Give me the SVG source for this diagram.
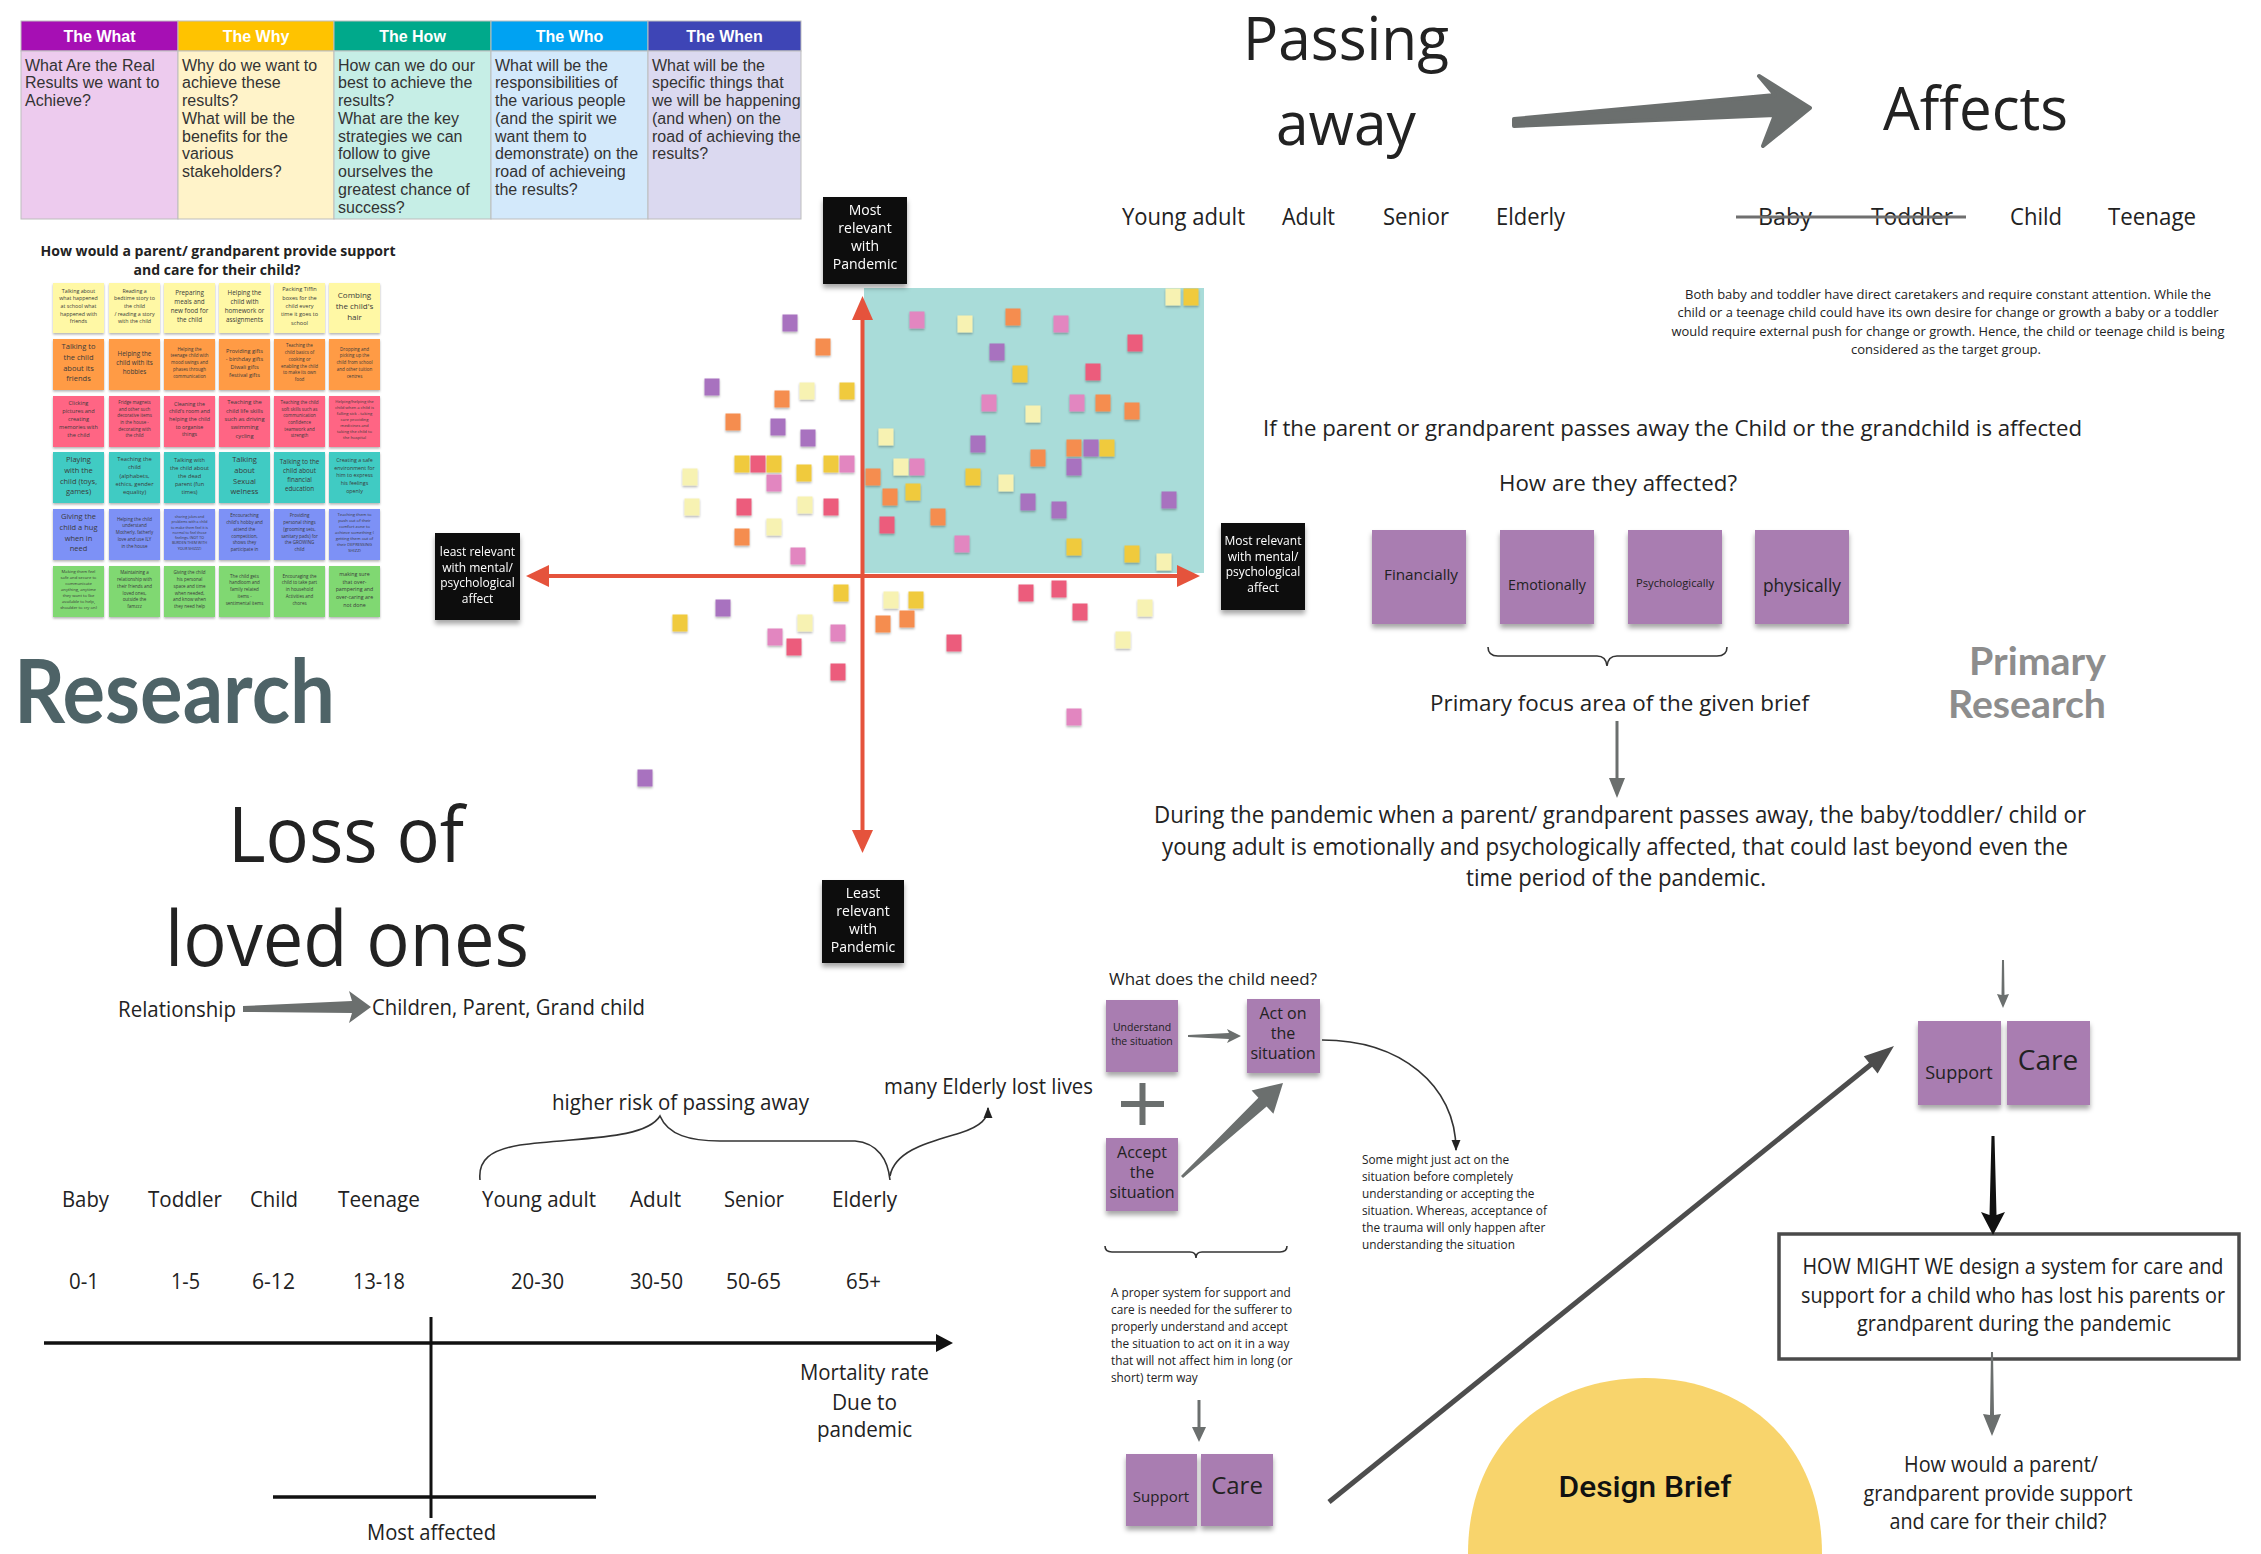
<svg xmlns="http://www.w3.org/2000/svg" width="2261" height="1554" viewBox="0 0 2261 1554">
<defs>
<style>
.os{font-family:"Open Sans","Noto Sans",sans-serif;fill:#222}
.m{text-anchor:middle}
.e{text-anchor:end}
.hdr{font-family:"Liberation Sans",Arial,sans-serif;font-weight:bold;font-size:16px;fill:#fff;text-anchor:middle}
.tb{font-family:"Liberation Sans",Arial,sans-serif;font-size:16px;fill:#333}
.nt{font-family:"Open Sans","Noto Sans",sans-serif;fill:#3a3a3a;text-anchor:middle}
.bx{font-family:"Open Sans","Noto Sans",sans-serif;fill:#fff;text-anchor:middle}
.pn{fill:#A97DB1}
.cP{fill:#E286C0}.cR{fill:#EC5C7C}.cO{fill:#F58D4F}.cY{fill:#F0CA3C}.cL{fill:#F7F2B2}.cU{fill:#A872BF}
.y1{fill:#FFF8A5}.y2{fill:#FF9B45}.y3{fill:#FF6584}.y4{fill:#40CBC3}.y5{fill:#7D91F6}.y6{fill:#80D872}
.gr{fill:#6B6F6E}
.ax{stroke:#E5533C;stroke-width:4;fill:none}
.axh{fill:#E5533C}
.blk{fill:#111}
.thin{fill:none;stroke:#333;stroke-width:1.6}
</style>
<filter id="sh" x="-20%" y="-20%" width="140%" height="150%"><feDropShadow dx="0" dy="4" stdDeviation="2.5" flood-color="#000" flood-opacity="0.35"/></filter>
<filter id="shs" x="-20%" y="-20%" width="140%" height="150%"><feDropShadow dx="0" dy="1.5" stdDeviation="1" flood-color="#000" flood-opacity="0.3"/></filter>
<marker id="ah" viewBox="0 0 10 10" refX="9" refY="5" markerWidth="7" markerHeight="7" orient="auto"><path d="M0,1 L10,5 L0,9 z" fill="#222"/></marker>
</defs>
<rect width="2261" height="1554" fill="#fff"/>

<!-- Table -->
<g id="table">
<g stroke="#BDBDBD" stroke-width="1">
<rect x="21" y="21" width="157" height="30" fill="#A60FB4"/>
<rect x="178" y="21" width="156" height="30" fill="#FFC300"/>
<rect x="334" y="21" width="157" height="30" fill="#00A98B"/>
<rect x="491" y="21" width="157" height="30" fill="#00A2F2"/>
<rect x="648" y="21" width="153" height="30" fill="#3E45B6"/>
<rect x="21" y="51" width="157" height="168" fill="#EDCBEE"/>
<rect x="178" y="51" width="156" height="168" fill="#FFF3C9"/>
<rect x="334" y="51" width="157" height="168" fill="#C6EEE6"/>
<rect x="491" y="51" width="157" height="168" fill="#D3E9FB"/>
<rect x="648" y="51" width="153" height="168" fill="#DBD9F0"/>
</g>
<text class="hdr" x="99.5" y="42">The What</text>
<text class="hdr" x="256" y="42">The Why</text>
<text class="hdr" x="412.5" y="42">The How</text>
<text class="hdr" x="569.5" y="42">The Who</text>
<text class="hdr" x="724.5" y="42">The When</text>
<text class="tb" x="25" y="70.5"><tspan x="25">What Are the Real</tspan><tspan x="25" dy="17.75">Results we want to</tspan><tspan x="25" dy="17.75">Achieve?</tspan></text>
<text class="tb" x="182" y="70.5"><tspan x="182">Why do we want to</tspan><tspan x="182" dy="17.75">achieve these</tspan><tspan x="182" dy="17.75">results?</tspan><tspan x="182" dy="17.75">What will be the</tspan><tspan x="182" dy="17.75">benefits for the</tspan><tspan x="182" dy="17.75">various</tspan><tspan x="182" dy="17.75">stakeholders?</tspan></text>
<text class="tb" x="338" y="70.5"><tspan x="338">How can we do our</tspan><tspan x="338" dy="17.75">best to achieve the</tspan><tspan x="338" dy="17.75">results?</tspan><tspan x="338" dy="17.75">What are the key</tspan><tspan x="338" dy="17.75">strategies we can</tspan><tspan x="338" dy="17.75">follow to give</tspan><tspan x="338" dy="17.75">ourselves the</tspan><tspan x="338" dy="17.75">greatest chance of</tspan><tspan x="338" dy="17.75">success?</tspan></text>
<text class="tb" x="495" y="70.5"><tspan x="495">What will be the</tspan><tspan x="495" dy="17.75">responsibilities of</tspan><tspan x="495" dy="17.75">the various people</tspan><tspan x="495" dy="17.75">(and the spirit we</tspan><tspan x="495" dy="17.75">want them to</tspan><tspan x="495" dy="17.75">demonstrate) on the</tspan><tspan x="495" dy="17.75">road of achieveing</tspan><tspan x="495" dy="17.75">the results?</tspan></text>
<text class="tb" x="652" y="70.5" font-size="15.5"><tspan x="652">What will be the</tspan><tspan x="652" dy="17.75">specific things that</tspan><tspan x="652" dy="17.75">we will be happening</tspan><tspan x="652" dy="17.75">(and when) on the</tspan><tspan x="652" dy="17.75">road of achieving the</tspan><tspan x="652" dy="17.75">results?</tspan></text>
</g>

<!-- Sticky grid -->
<g id="grid-title">
<text class="os m" x="218" y="256" font-size="14" font-weight="bold" textLength="355" lengthAdjust="spacingAndGlyphs">How would a parent/ grandparent provide support</text>
<text class="os m" x="217" y="275" font-size="14" font-weight="bold" textLength="167" lengthAdjust="spacingAndGlyphs">and care for their child?</text>
</g>
<g id="sticky-grid" filter="url(#shs)">
<g class="y1">
<rect x="53" y="283" width="51" height="50"/><rect x="109" y="283" width="51" height="50"/><rect x="164" y="283" width="51" height="50"/><rect x="219" y="283" width="51" height="50"/><rect x="274" y="283" width="51" height="50"/><rect x="329" y="283" width="51" height="50"/>
</g>
<g class="y2">
<rect x="53" y="339" width="51" height="51"/><rect x="109" y="339" width="51" height="51"/><rect x="164" y="339" width="51" height="51"/><rect x="219" y="339" width="51" height="51"/><rect x="274" y="339" width="51" height="51"/><rect x="329" y="339" width="51" height="51"/>
</g>
<g class="y3">
<rect x="53" y="396" width="51" height="51"/><rect x="109" y="396" width="51" height="51"/><rect x="164" y="396" width="51" height="51"/><rect x="219" y="396" width="51" height="51"/><rect x="274" y="396" width="51" height="51"/><rect x="329" y="396" width="51" height="51"/>
</g>
<g class="y4">
<rect x="53" y="452" width="51" height="51"/><rect x="109" y="452" width="51" height="51"/><rect x="164" y="452" width="51" height="51"/><rect x="219" y="452" width="51" height="51"/><rect x="274" y="452" width="51" height="51"/><rect x="329" y="452" width="51" height="51"/>
</g>
<g class="y5">
<rect x="53" y="509" width="51" height="51"/><rect x="109" y="509" width="51" height="51"/><rect x="164" y="509" width="51" height="51"/><rect x="219" y="509" width="51" height="51"/><rect x="274" y="509" width="51" height="51"/><rect x="329" y="509" width="51" height="51"/>
</g>
<g class="y6">
<rect x="53" y="566" width="51" height="51"/><rect x="109" y="566" width="51" height="51"/><rect x="164" y="566" width="51" height="51"/><rect x="219" y="566" width="51" height="51"/><rect x="274" y="566" width="51" height="51"/><rect x="329" y="566" width="51" height="51"/>
</g>
</g>
<g id="sticky-grid-text">
<text class="nt" x="78.5" y="292.5" font-size="5.3"><tspan x="78.5">Talking about</tspan><tspan x="78.5" dy="7.7">what happened</tspan><tspan x="78.5" dy="7.7">at school what</tspan><tspan x="78.5" dy="7.7">happened with</tspan><tspan x="78.5" dy="7.7">friends</tspan></text>
<text class="nt" x="134.5" y="292.5" font-size="5.3"><tspan x="134.5">Reading a</tspan><tspan x="134.5" dy="7.7">bedtime story to</tspan><tspan x="134.5" dy="7.7">the child</tspan><tspan x="134.5" dy="7.7">/ reading a story</tspan><tspan x="134.5" dy="7.7">with the child</tspan></text>
<text class="nt" x="189.5" y="294.7" font-size="6.3"><tspan x="189.5">Preparing</tspan><tspan x="189.5" dy="9">meals and</tspan><tspan x="189.5" dy="9">new food for</tspan><tspan x="189.5" dy="9">the child</tspan></text>
<text class="nt" x="244.5" y="294.7" font-size="6.3"><tspan x="244.5">Helping the</tspan><tspan x="244.5" dy="9">child with</tspan><tspan x="244.5" dy="9">homework or</tspan><tspan x="244.5" dy="9">assignments</tspan></text>
<text class="nt" x="299.5" y="291.4" font-size="5.6"><tspan x="299.5">Packing Tiffin</tspan><tspan x="299.5" dy="8.3">boxes for the</tspan><tspan x="299.5" dy="8.3">child every</tspan><tspan x="299.5" dy="8.3">time it goes to</tspan><tspan x="299.5" dy="8.3">school</tspan></text>
<text class="nt" x="354.5" y="297.8" font-size="8"><tspan x="354.5">Combing</tspan><tspan x="354.5" dy="11">the child's</tspan><tspan x="354.5" dy="11">hair</tspan></text>
<text class="nt" x="78.5" y="349.1" font-size="7.5"><tspan x="78.5">Talking to</tspan><tspan x="78.5" dy="10.7">the child</tspan><tspan x="78.5" dy="10.7">about its</tspan><tspan x="78.5" dy="10.7">friends</tspan></text>
<text class="nt" x="134.5" y="355.7" font-size="6.3"><tspan x="134.5">Helping the</tspan><tspan x="134.5" dy="9">child with its</tspan><tspan x="134.5" dy="9">hobbies</tspan></text>
<text class="nt" x="189.5" y="350.7" font-size="4.5"><tspan x="189.5">Helping the</tspan><tspan x="189.5" dy="6.7">teenage child with</tspan><tspan x="189.5" dy="6.7">mood swings and</tspan><tspan x="189.5" dy="6.7">phases through</tspan><tspan x="189.5" dy="6.7">communication</tspan></text>
<text class="nt" x="244.5" y="352.5" font-size="5.6"><tspan x="244.5">Providing gifts</tspan><tspan x="244.5" dy="8">- birthday gifts</tspan><tspan x="244.5" dy="8">Diwali gifts</tspan><tspan x="244.5" dy="8">festival gifts</tspan></text>
<text class="nt" x="299.5" y="347.4" font-size="4.5"><tspan x="299.5">Teaching the</tspan><tspan x="299.5" dy="6.7">child basics of</tspan><tspan x="299.5" dy="6.7">cooking or</tspan><tspan x="299.5" dy="6.7">enabling the child</tspan><tspan x="299.5" dy="6.7">to make its own</tspan><tspan x="299.5" dy="6.7">food</tspan></text>
<text class="nt" x="354.5" y="350.7" font-size="4.5"><tspan x="354.5">Dropping and</tspan><tspan x="354.5" dy="6.7">picking up the</tspan><tspan x="354.5" dy="6.7">child from school</tspan><tspan x="354.5" dy="6.7">and other tuition</tspan><tspan x="354.5" dy="6.7">centres</tspan></text>
<text class="nt" x="78.5" y="405" font-size="5.6"><tspan x="78.5">Clicking</tspan><tspan x="78.5" dy="8">pictures and</tspan><tspan x="78.5" dy="8">creating</tspan><tspan x="78.5" dy="8">memories with</tspan><tspan x="78.5" dy="8">the child</tspan></text>
<text class="nt" x="134.5" y="403.9" font-size="4.5"><tspan x="134.5">Fridge magnets</tspan><tspan x="134.5" dy="6.7">and other such</tspan><tspan x="134.5" dy="6.7">decorative items</tspan><tspan x="134.5" dy="6.7">in the house -</tspan><tspan x="134.5" dy="6.7">decorating with</tspan><tspan x="134.5" dy="6.7">the child</tspan></text>
<text class="nt" x="189.5" y="405.5" font-size="5.3"><tspan x="189.5">Cleaning the</tspan><tspan x="189.5" dy="7.7">child's room and</tspan><tspan x="189.5" dy="7.7">helping the child</tspan><tspan x="189.5" dy="7.7">to organise</tspan><tspan x="189.5" dy="7.7">things</tspan></text>
<text class="nt" x="244.5" y="404.4" font-size="5.8"><tspan x="244.5">Teaching the</tspan><tspan x="244.5" dy="8.3">child life skills</tspan><tspan x="244.5" dy="8.3">such as driving</tspan><tspan x="244.5" dy="8.3">swimming</tspan><tspan x="244.5" dy="8.3">cycling</tspan></text>
<text class="nt" x="299.5" y="403.9" font-size="4.5"><tspan x="299.5">Teaching the child</tspan><tspan x="299.5" dy="6.7">soft skills such as</tspan><tspan x="299.5" dy="6.7">communication</tspan><tspan x="299.5" dy="6.7">confidence</tspan><tspan x="299.5" dy="6.7">teamwork and</tspan><tspan x="299.5" dy="6.7">strength</tspan></text>
<text class="nt" x="354.5" y="402.5" font-size="4.2"><tspan x="354.5">Helping/helping the</tspan><tspan x="354.5" dy="6">child when a child is</tspan><tspan x="354.5" dy="6">falling sick - taking</tspan><tspan x="354.5" dy="6">care providing</tspan><tspan x="354.5" dy="6">medicines and</tspan><tspan x="354.5" dy="6">taking the child to</tspan><tspan x="354.5" dy="6">the hospital</tspan></text>
<text class="nt" x="78.5" y="462.1" font-size="7.5"><tspan x="78.5">Playing</tspan><tspan x="78.5" dy="10.7">with the</tspan><tspan x="78.5" dy="10.7">child (toys,</tspan><tspan x="78.5" dy="10.7">games)</tspan></text>
<text class="nt" x="134.5" y="460.9" font-size="5.8"><tspan x="134.5">Teaching the</tspan><tspan x="134.5" dy="8.3">child</tspan><tspan x="134.5" dy="8.3">(alphabets,</tspan><tspan x="134.5" dy="8.3">ethics, gender</tspan><tspan x="134.5" dy="8.3">equality)</tspan></text>
<text class="nt" x="189.5" y="461.5" font-size="5.6"><tspan x="189.5">Talking with</tspan><tspan x="189.5" dy="8">the child about</tspan><tspan x="189.5" dy="8">the dead</tspan><tspan x="189.5" dy="8">parent (fun</tspan><tspan x="189.5" dy="8">times)</tspan></text>
<text class="nt" x="244.5" y="462.1" font-size="7.5"><tspan x="244.5">Talking</tspan><tspan x="244.5" dy="10.7">about</tspan><tspan x="244.5" dy="10.7">Sexual</tspan><tspan x="244.5" dy="10.7">welness</tspan></text>
<text class="nt" x="299.5" y="464.2" font-size="6.3"><tspan x="299.5">Talking to the</tspan><tspan x="299.5" dy="9">child about</tspan><tspan x="299.5" dy="9">financial</tspan><tspan x="299.5" dy="9">education</tspan></text>
<text class="nt" x="354.5" y="462" font-size="5.3"><tspan x="354.5">Creating a safe</tspan><tspan x="354.5" dy="7.7">environment for</tspan><tspan x="354.5" dy="7.7">him to express</tspan><tspan x="354.5" dy="7.7">his feelings</tspan><tspan x="354.5" dy="7.7">openly</tspan></text>
<text class="nt" x="78.5" y="519.1" font-size="7.5"><tspan x="78.5">Giving the</tspan><tspan x="78.5" dy="10.7">child a hug</tspan><tspan x="78.5" dy="10.7">when in</tspan><tspan x="78.5" dy="10.7">need</tspan></text>
<text class="nt" x="134.5" y="520.7" font-size="4.5"><tspan x="134.5">Helping the child</tspan><tspan x="134.5" dy="6.7">understand</tspan><tspan x="134.5" dy="6.7">Motherly, fatherly</tspan><tspan x="134.5" dy="6.7">love and use ILY</tspan><tspan x="134.5" dy="6.7">in the house</tspan></text>
<text class="nt" x="189.5" y="517.9" font-size="3.6"><tspan x="189.5">sharing jokes and</tspan><tspan x="189.5" dy="5.3">problems with a child</tspan><tspan x="189.5" dy="5.3">to make them feel it is</tspan><tspan x="189.5" dy="5.3">normal to feel those</tspan><tspan x="189.5" dy="5.3">feelings. (NOT TO</tspan><tspan x="189.5" dy="5.3">BURDEN THEM WITH</tspan><tspan x="189.5" dy="5.3">YOUR SHIZZZ)</tspan></text>
<text class="nt" x="244.5" y="517.4" font-size="4.5"><tspan x="244.5">Encouraching</tspan><tspan x="244.5" dy="6.7">child's hobby and</tspan><tspan x="244.5" dy="6.7">attend the</tspan><tspan x="244.5" dy="6.7">competition,</tspan><tspan x="244.5" dy="6.7">shows they</tspan><tspan x="244.5" dy="6.7">participate in</tspan></text>
<text class="nt" x="299.5" y="517.4" font-size="4.5"><tspan x="299.5">Providing</tspan><tspan x="299.5" dy="6.7">personal things</tspan><tspan x="299.5" dy="6.7">(grooming sets,</tspan><tspan x="299.5" dy="6.7">sanitary pads) for</tspan><tspan x="299.5" dy="6.7">the GROWING</tspan><tspan x="299.5" dy="6.7">child</tspan></text>
<text class="nt" x="354.5" y="516" font-size="4.2"><tspan x="354.5">Teaching them to</tspan><tspan x="354.5" dy="6">push out of their</tspan><tspan x="354.5" dy="6">comfort zone to</tspan><tspan x="354.5" dy="6">achieve something (</tspan><tspan x="354.5" dy="6">getting them out of</tspan><tspan x="354.5" dy="6">their DEPRESSING</tspan><tspan x="354.5" dy="6">SHIZZ)</tspan></text>
<text class="nt" x="78.5" y="573" font-size="4.2"><tspan x="78.5">Making them feel</tspan><tspan x="78.5" dy="6">safe and secure to</tspan><tspan x="78.5" dy="6">communicate</tspan><tspan x="78.5" dy="6">anything, anytime</tspan><tspan x="78.5" dy="6">they want to (be</tspan><tspan x="78.5" dy="6">available to help,</tspan><tspan x="78.5" dy="6">shoulder to cry on)</tspan></text>
<text class="nt" x="134.5" y="574.4" font-size="4.5"><tspan x="134.5">Maintaining a</tspan><tspan x="134.5" dy="6.7">relationship with</tspan><tspan x="134.5" dy="6.7">their friends and</tspan><tspan x="134.5" dy="6.7">loved ones,</tspan><tspan x="134.5" dy="6.7">outside the</tspan><tspan x="134.5" dy="6.7">famzzz</tspan></text>
<text class="nt" x="189.5" y="574.4" font-size="4.5"><tspan x="189.5">Giving the child</tspan><tspan x="189.5" dy="6.7">his personal</tspan><tspan x="189.5" dy="6.7">space and time</tspan><tspan x="189.5" dy="6.7">when needed,</tspan><tspan x="189.5" dy="6.7">and know when</tspan><tspan x="189.5" dy="6.7">they need help</tspan></text>
<text class="nt" x="244.5" y="577.7" font-size="4.5"><tspan x="244.5">The child gets</tspan><tspan x="244.5" dy="6.7">handloom and</tspan><tspan x="244.5" dy="6.7">family related</tspan><tspan x="244.5" dy="6.7">items -</tspan><tspan x="244.5" dy="6.7">sentimental items</tspan></text>
<text class="nt" x="299.5" y="577.7" font-size="4.5"><tspan x="299.5">Encouraging the</tspan><tspan x="299.5" dy="6.7">child to take part</tspan><tspan x="299.5" dy="6.7">in household</tspan><tspan x="299.5" dy="6.7">Activities and</tspan><tspan x="299.5" dy="6.7">chores</tspan></text>
<text class="nt" x="354.5" y="576" font-size="5.3"><tspan x="354.5">making sure</tspan><tspan x="354.5" dy="7.7">that over-</tspan><tspan x="354.5" dy="7.7">pampering and</tspan><tspan x="354.5" dy="7.7">over-caring are</tspan><tspan x="354.5" dy="7.7">not done</tspan></text>
</g>

<!-- Research titles -->
<g id="research-title">
<text x="14" y="723" font-family="Lato,'Open Sans',sans-serif" font-weight="bold" font-size="88" fill="#4E6367" textLength="321" lengthAdjust="spacingAndGlyphs">Research</text>
</g>
<g id="primary-research">
<text class="e" x="2106" y="675" font-family="Lato,'Open Sans',sans-serif" font-weight="bold" font-size="39" fill="#8D8D8D" textLength="137" lengthAdjust="spacingAndGlyphs">Primary</text>
<text class="e" x="2106" y="718" font-family="Lato,'Open Sans',sans-serif" font-weight="bold" font-size="39" fill="#8D8D8D" textLength="158" lengthAdjust="spacingAndGlyphs">Research</text>
</g>

<!-- Scatter plot -->
<g id="quadrant">
<rect x="864" y="288" width="340" height="285" fill="#A9DCD9"/>
</g>
<g id="scatter-notes" filter="url(#shs)">
<rect class="cL" x="1165.5" y="288.5" width="15" height="17"/>
<rect class="cY" x="1183.5" y="288.5" width="15" height="17"/>
<rect class="cP" x="909.5" y="311.5" width="15" height="17"/>
<rect class="cL" x="957.5" y="315.5" width="15" height="17"/>
<rect class="cO" x="1005.5" y="308.5" width="15" height="17"/>
<rect class="cP" x="1053.5" y="315.5" width="15" height="17"/>
<rect class="cR" x="1127.5" y="334.5" width="15" height="17"/>
<rect class="cU" x="989.5" y="343.5" width="15" height="17"/>
<rect class="cY" x="1012.5" y="365.5" width="15" height="17"/>
<rect class="cR" x="1085.5" y="363.5" width="15" height="17"/>
<rect class="cP" x="981.5" y="394.5" width="15" height="17"/>
<rect class="cL" x="1025.5" y="405.5" width="15" height="17"/>
<rect class="cP" x="1069.5" y="394.5" width="15" height="17"/>
<rect class="cO" x="1095.5" y="394.5" width="15" height="17"/>
<rect class="cO" x="1124.5" y="402.5" width="15" height="17"/>
<rect class="cL" x="878.5" y="428.5" width="15" height="17"/>
<rect class="cU" x="970.5" y="435.5" width="15" height="17"/>
<rect class="cO" x="1066.5" y="439.5" width="15" height="17"/>
<rect class="cU" x="1083.5" y="439.5" width="15" height="17"/>
<rect class="cY" x="1099.5" y="439.5" width="15" height="17"/>
<rect class="cO" x="1030.5" y="449.5" width="15" height="17"/>
<rect class="cU" x="1066.5" y="458.5" width="15" height="17"/>
<rect class="cL" x="893.5" y="458.5" width="15" height="17"/>
<rect class="cP" x="909.5" y="458.5" width="15" height="17"/>
<rect class="cO" x="865.5" y="468.5" width="15" height="17"/>
<rect class="cY" x="965.5" y="468.5" width="15" height="17"/>
<rect class="cL" x="998.5" y="474.5" width="15" height="17"/>
<rect class="cO" x="882.5" y="488.5" width="15" height="17"/>
<rect class="cY" x="905.5" y="483.5" width="15" height="17"/>
<rect class="cU" x="1020.5" y="493.5" width="15" height="17"/>
<rect class="cU" x="1051.5" y="501.5" width="15" height="17"/>
<rect class="cU" x="1161.5" y="491.5" width="15" height="17"/>
<rect class="cO" x="930.5" y="508.5" width="15" height="17"/>
<rect class="cR" x="879.5" y="516.5" width="15" height="17"/>
<rect class="cP" x="954.5" y="535.5" width="15" height="17"/>
<rect class="cY" x="1066.5" y="538.5" width="15" height="17"/>
<rect class="cY" x="1124.5" y="545.5" width="15" height="17"/>
<rect class="cL" x="1156.5" y="553.5" width="15" height="17"/>
<rect class="cO" x="815.5" y="338.5" width="15" height="17"/>
<rect class="cY" x="839.5" y="382.5" width="15" height="17"/>
<rect class="cY" x="823.5" y="455.5" width="15" height="17"/>
<rect class="cP" x="839.5" y="455.5" width="15" height="17"/>
<rect class="cR" x="823.5" y="498.5" width="15" height="17"/>
<rect class="cU" x="782.5" y="314.5" width="15" height="17"/>
<rect class="cU" x="704.5" y="378.5" width="15" height="17"/>
<rect class="cL" x="799.5" y="382.5" width="15" height="17"/>
<rect class="cO" x="774.5" y="390.5" width="15" height="17"/>
<rect class="cO" x="725.5" y="413.5" width="15" height="17"/>
<rect class="cU" x="770.5" y="418.5" width="15" height="17"/>
<rect class="cU" x="800.5" y="429.5" width="15" height="17"/>
<rect class="cY" x="734.5" y="455.5" width="15" height="17"/>
<rect class="cR" x="750.5" y="455.5" width="15" height="17"/>
<rect class="cY" x="766.5" y="455.5" width="15" height="17"/>
<rect class="cY" x="796.5" y="464.5" width="15" height="17"/>
<rect class="cL" x="682.5" y="468.5" width="15" height="17"/>
<rect class="cP" x="766.5" y="474.5" width="15" height="17"/>
<rect class="cL" x="684.5" y="498.5" width="15" height="17"/>
<rect class="cR" x="736.5" y="498.5" width="15" height="17"/>
<rect class="cL" x="797.5" y="496.5" width="15" height="17"/>
<rect class="cO" x="734.5" y="528.5" width="15" height="17"/>
<rect class="cL" x="766.5" y="518.5" width="15" height="17"/>
<rect class="cP" x="790.5" y="547.5" width="15" height="17"/>
<rect class="cU" x="715.5" y="599.5" width="15" height="17"/>
<rect class="cY" x="672.5" y="614.5" width="15" height="17"/>
<rect class="cL" x="797.5" y="614.5" width="15" height="17"/>
<rect class="cY" x="833.5" y="584.5" width="15" height="17"/>
<rect class="cL" x="883.5" y="591.5" width="15" height="17"/>
<rect class="cY" x="908.5" y="591.5" width="15" height="17"/>
<rect class="cP" x="767.5" y="628.5" width="15" height="17"/>
<rect class="cR" x="786.5" y="638.5" width="15" height="17"/>
<rect class="cP" x="830.5" y="624.5" width="15" height="17"/>
<rect class="cO" x="875.5" y="615.5" width="15" height="17"/>
<rect class="cO" x="899.5" y="610.5" width="15" height="17"/>
<rect class="cR" x="1018.5" y="584.5" width="15" height="17"/>
<rect class="cR" x="1051.5" y="580.5" width="15" height="17"/>
<rect class="cR" x="1072.5" y="603.5" width="15" height="17"/>
<rect class="cL" x="1137.5" y="599.5" width="15" height="17"/>
<rect class="cR" x="946.5" y="634.5" width="15" height="17"/>
<rect class="cL" x="1115.5" y="631.5" width="15" height="17"/>
<rect class="cR" x="830.5" y="663.5" width="15" height="17"/>
<rect class="cP" x="1066.5" y="708.5" width="15" height="17"/>
<rect class="cU" x="637.5" y="769.5" width="15" height="17"/>
</g>
<g id="axes">
<line class="ax" x1="862.5" y1="314" x2="862.5" y2="836"/>
<line class="ax" x1="543" y1="576" x2="1183" y2="576"/>
<polygon class="axh" points="862.5,296 873,320 852,320"/>
<polygon class="axh" points="862.5,853 873,830 852,830"/>
<polygon class="axh" points="526,576 549,565 549,587"/>
<polygon class="axh" points="1200,576 1177,565 1177,587"/>
</g>
<g id="label-top" filter="url(#sh)">
<rect class="blk" x="823" y="197" width="84" height="87"/>
<text class="bx" x="865" y="215" font-size="14"><tspan x="865">Most</tspan><tspan x="865" dy="18">relevant</tspan><tspan x="865" dy="18">with</tspan><tspan x="865" dy="18">Pandemic</tspan></text>
</g>
<g id="label-left" filter="url(#sh)">
<rect class="blk" x="435" y="533" width="85" height="87"/>
<text class="bx" x="477.5" y="556" font-size="12"><tspan x="477.5">least relevant</tspan><tspan x="477.5" dy="15.5">with mental/</tspan><tspan x="477.5" dy="15.5">psychological</tspan><tspan x="477.5" dy="15.5">affect</tspan></text>
</g>
<g id="label-right" filter="url(#sh)">
<rect class="blk" x="1221" y="523" width="84" height="87"/>
<text class="bx" x="1263" y="545" font-size="12"><tspan x="1263">Most relevant</tspan><tspan x="1263" dy="15.5">with mental/</tspan><tspan x="1263" dy="15.5">psychological</tspan><tspan x="1263" dy="15.5">affect</tspan></text>
</g>
<g id="label-bottom" filter="url(#sh)">
<rect class="blk" x="822" y="880" width="82" height="83"/>
<text class="bx" x="863" y="898" font-size="14"><tspan x="863">Least</tspan><tspan x="863" dy="18">relevant</tspan><tspan x="863" dy="18">with</tspan><tspan x="863" dy="18">Pandemic</tspan></text>
</g>

<!-- Passing away / Affects -->
<g id="passing-away">
<text class="os m" x="1346" y="60" font-size="60" textLength="206" lengthAdjust="spacingAndGlyphs">Passing</text>
<text class="os m" x="1346" y="145" font-size="60" textLength="140" lengthAdjust="spacingAndGlyphs">away</text>
</g>
<g id="affects">
<text class="os" x="1883" y="130" font-size="60" textLength="185" lengthAdjust="spacingAndGlyphs">Affects</text>
</g>
<g id="ages-top" class="os" font-size="24">
<text x="1122" y="225" textLength="123" lengthAdjust="spacingAndGlyphs">Young adult</text>
<text x="1282" y="225" textLength="53" lengthAdjust="spacingAndGlyphs">Adult</text>
<text x="1383" y="225" textLength="66" lengthAdjust="spacingAndGlyphs">Senior</text>
<text x="1496" y="225" textLength="69" lengthAdjust="spacingAndGlyphs">Elderly</text>
<text x="1758" y="225" textLength="54" lengthAdjust="spacingAndGlyphs">Baby</text>
<text x="1871" y="225" textLength="82" lengthAdjust="spacingAndGlyphs">Toddler</text>
<text x="2010" y="225" textLength="52" lengthAdjust="spacingAndGlyphs">Child</text>
<text x="2108" y="225" textLength="88" lengthAdjust="spacingAndGlyphs">Teenage</text>
<line x1="1736" y1="217" x2="1966" y2="217" stroke="#6F6F6F" stroke-width="3"/>
</g>
<g id="target-note" class="os m" font-size="13" fill="#333">
<text x="1948" y="299" textLength="526" lengthAdjust="spacingAndGlyphs">Both baby and toddler have direct caretakers and require constant attention.  While the</text>
<text x="1948" y="317" textLength="541" lengthAdjust="spacingAndGlyphs">child or a teenage child could have its own desire for change or growth a baby or a toddler</text>
<text x="1948" y="336" textLength="553" lengthAdjust="spacingAndGlyphs">would require external push for change or growth. Hence, the child or teenage child is being</text>
<text x="1946" y="354" textLength="190" lengthAdjust="spacingAndGlyphs">considered as the target group.</text>
</g>
<g id="affected-text" class="os" font-size="22" fill="#333">
<text x="1263" y="436" textLength="819" lengthAdjust="spacingAndGlyphs">If the parent or grandparent passes away the Child or the grandchild is affected</text>
<text x="1499" y="491" textLength="238" lengthAdjust="spacingAndGlyphs">How are they affected?</text>
</g>
<g id="affect-notes" filter="url(#sh)">
<rect class="pn" x="1372" y="530" width="94" height="94"/>
<rect class="pn" x="1500" y="530" width="94" height="94"/>
<rect class="pn" x="1628" y="530" width="94" height="94"/>
<rect class="pn" x="1755" y="530" width="94" height="94"/>
</g>
<g id="affect-labels" class="os m" fill="#333">
<text x="1421" y="580" font-size="15" textLength="74" lengthAdjust="spacingAndGlyphs">Financially</text>
<text x="1547" y="590" font-size="14" textLength="78" lengthAdjust="spacingAndGlyphs">Emotionally</text>
<text x="1675" y="587" font-size="11" textLength="78" lengthAdjust="spacingAndGlyphs">Psychologically</text>
<text x="1802" y="592" font-size="19" textLength="78" lengthAdjust="spacingAndGlyphs">physically</text>
</g>
<g id="focus" class="os" fill="#333">
<text x="1430" y="711" font-size="22" textLength="379" lengthAdjust="spacingAndGlyphs">Primary focus area of the given brief</text>
<text x="1154" y="823" font-size="24" textLength="932" lengthAdjust="spacingAndGlyphs">During the pandemic when a parent/ grandparent passes away, the baby/toddler/ child or</text>
<text x="1162" y="855" font-size="24" textLength="906" lengthAdjust="spacingAndGlyphs">young adult is emotionally and psychologically affected, that could last beyond even the</text>
<text x="1466" y="886" font-size="24" textLength="300" lengthAdjust="spacingAndGlyphs">time period of the pandemic.</text>
</g>

<!-- Loss of loved ones -->
<g id="loss-title" class="os">
<text x="228" y="862" font-size="76" textLength="236" lengthAdjust="spacingAndGlyphs">Loss of</text>
<text x="165" y="966" font-size="76" textLength="364" lengthAdjust="spacingAndGlyphs">loved ones</text>
</g>
<g id="relationship" class="os" font-size="21" fill="#333">
<text x="118" y="1017" textLength="118" lengthAdjust="spacingAndGlyphs">Relationship</text>
<text x="372" y="1015" textLength="273" lengthAdjust="spacingAndGlyphs">Children, Parent, Grand child</text>
</g>
<g id="timeline-labels" class="os" font-size="21" fill="#333">
<text x="62" y="1207" textLength="47" lengthAdjust="spacingAndGlyphs">Baby</text>
<text x="148" y="1207" textLength="74" lengthAdjust="spacingAndGlyphs">Toddler</text>
<text x="250" y="1207" textLength="48" lengthAdjust="spacingAndGlyphs">Child</text>
<text x="338" y="1207" textLength="82" lengthAdjust="spacingAndGlyphs">Teenage</text>
<text x="482" y="1207" textLength="114" lengthAdjust="spacingAndGlyphs">Young adult</text>
<text x="630" y="1207" textLength="51" lengthAdjust="spacingAndGlyphs">Adult</text>
<text x="724" y="1207" textLength="60" lengthAdjust="spacingAndGlyphs">Senior</text>
<text x="832" y="1207" textLength="65" lengthAdjust="spacingAndGlyphs">Elderly</text>
<text x="69" y="1289" textLength="30" lengthAdjust="spacingAndGlyphs">0-1</text>
<text x="171" y="1289" textLength="29" lengthAdjust="spacingAndGlyphs">1-5</text>
<text x="252" y="1289" textLength="43" lengthAdjust="spacingAndGlyphs">6-12</text>
<text x="353" y="1289" textLength="52" lengthAdjust="spacingAndGlyphs">13-18</text>
<text x="511" y="1289" textLength="53" lengthAdjust="spacingAndGlyphs">20-30</text>
<text x="630" y="1289" textLength="53" lengthAdjust="spacingAndGlyphs">30-50</text>
<text x="726" y="1289" textLength="55" lengthAdjust="spacingAndGlyphs">50-65</text>
<text x="846" y="1289" textLength="35" lengthAdjust="spacingAndGlyphs">65+</text>
<text x="552" y="1110" textLength="257" lengthAdjust="spacingAndGlyphs">higher risk of passing away</text>
<text x="884" y="1094" textLength="209" lengthAdjust="spacingAndGlyphs">many Elderly lost lives</text>
<text x="800" y="1380" textLength="129" lengthAdjust="spacingAndGlyphs">Mortality rate</text>
<text x="832" y="1410" textLength="65" lengthAdjust="spacingAndGlyphs">Due to</text>
<text x="817" y="1437" textLength="95" lengthAdjust="spacingAndGlyphs">pandemic</text>
<text x="367" y="1540" textLength="129" lengthAdjust="spacingAndGlyphs">Most affected</text>
</g>
<g id="timeline-axes">
<line x1="44" y1="1343" x2="938" y2="1343" stroke="#111" stroke-width="3.5"/>
<polygon points="953,1343 936,1334 936,1352" fill="#111"/>
<line x1="431" y1="1317" x2="431" y2="1518" stroke="#111" stroke-width="3"/>
<line x1="273" y1="1497" x2="596" y2="1497" stroke="#111" stroke-width="3.5"/>
</g>

<!-- What does the child need -->
<g id="child-need-title">
<text class="os" x="1109" y="985" font-size="17" fill="#333" textLength="208" lengthAdjust="spacingAndGlyphs">What does the child need?</text>
</g>
<g id="need-notes" filter="url(#sh)">
<rect class="pn" x="1106" y="1000" width="72" height="72"/>
<rect class="pn" x="1247" y="999" width="73" height="74"/>
<rect class="pn" x="1106" y="1138" width="72" height="73"/>
<rect class="pn" x="1126" y="1454" width="71" height="72"/>
<rect class="pn" x="1201" y="1454" width="72" height="72"/>
<rect class="pn" x="1918" y="1021" width="83" height="84"/>
<rect class="pn" x="2007" y="1021" width="83" height="84"/>
</g>
<g id="need-labels" class="os m" fill="#333">
<text x="1142" y="1031" font-size="10.5"><tspan x="1142">Understand</tspan><tspan x="1142" dy="14">the situation</tspan></text>
<text x="1283" y="1019" font-size="16"><tspan x="1283">Act on</tspan><tspan x="1283" dy="20">the</tspan><tspan x="1283" dy="20">situation</tspan></text>
<text x="1142" y="1158" font-size="16"><tspan x="1142">Accept</tspan><tspan x="1142" dy="20">the</tspan><tspan x="1142" dy="20">situation</tspan></text>
<text x="1161" y="1502" font-size="15">Support</text>
<text x="1237" y="1494" font-size="24">Care</text>
<text x="1959" y="1079" font-size="18">Support</text>
<text x="2048" y="1070" font-size="28">Care</text>
</g>
<g id="plus">
<rect class="gr" x="1121" y="1101" width="43" height="6"/>
<rect class="gr" x="1139.5" y="1083" width="6" height="42"/>
</g>
<g id="need-notes-text" class="os" font-size="11.8" fill="#444">
<text x="1362" y="1164"><tspan x="1362">Some might just act on the</tspan><tspan x="1362" dy="17">situation before completely</tspan><tspan x="1362" dy="17">understanding or accepting the</tspan><tspan x="1362" dy="17">situation. Whereas, acceptance of</tspan><tspan x="1362" dy="17">the trauma will only happen after</tspan><tspan x="1362" dy="17">understanding the situation</tspan></text>
<text x="1111" y="1297"><tspan x="1111">A proper system for support and</tspan><tspan x="1111" dy="17">care is needed for the sufferer to</tspan><tspan x="1111" dy="17">properly understand and accept</tspan><tspan x="1111" dy="17">the situation to act on it in a way</tspan><tspan x="1111" dy="17">that will not affect him in long (or</tspan><tspan x="1111" dy="17">short) term way</tspan></text>
</g>

<!-- Design brief -->
<g id="design-brief">
<path d="M1468,1554 C1468,1440 1550,1378 1645,1378 C1740,1378 1822,1440 1822,1554 Z" fill="#F8D46C"/>
<text class="m" x="1645" y="1497" font-family="Roboto,'Open Sans',sans-serif" font-weight="500" font-size="30" fill="#111" textLength="173" lengthAdjust="spacingAndGlyphs">Design Brief</text>
</g>

<!-- HMW -->
<g id="hmw">
<rect x="1779" y="1234" width="460" height="125" fill="#fff" stroke="#4A4A4A" stroke-width="3.5"/>
<g class="os m" font-size="21" fill="#333">
<text x="2013" y="1274" textLength="421" lengthAdjust="spacingAndGlyphs">HOW MIGHT WE design a system for care and</text>
<text x="2013" y="1303" textLength="424" lengthAdjust="spacingAndGlyphs">support for a child who has lost his parents or</text>
<text x="2014" y="1331" textLength="314" lengthAdjust="spacingAndGlyphs">grandparent during the pandemic</text>
</g>
</g>
<g id="final-question" class="os m" font-size="21" fill="#333">
<text x="2001" y="1472" textLength="194" lengthAdjust="spacingAndGlyphs">How would a parent/</text>
<text x="1998" y="1501" textLength="269" lengthAdjust="spacingAndGlyphs">grandparent provide support</text>
<text x="1998" y="1529" textLength="217" lengthAdjust="spacingAndGlyphs">and care for their child?</text>
</g>

<!-- Connectors -->
<g id="connectors">
<polygon class="gr" stroke="#6B6F6E" stroke-width="4" stroke-linejoin="round" points="1514,119 1775,95 1759,76 1810,108 1763,146 1775,115 1514,126"/>
<polygon class="gr" points="243,1006 352,1001 349,991 371,1007 349,1023 352,1013 243,1012"/>
<path class="thin" d="M1488,647 Q1488,656 1498,656 L1597,656 Q1606,656 1607,666 Q1608,656 1617,656 L1717,656 Q1727,656 1727,647"/>
<path class="thin" d="M1105,1246 Q1105,1252 1112,1252 L1190,1252 Q1196,1252 1196,1258 Q1196,1252 1202,1252 L1280,1252 Q1287,1252 1287,1246"/>
<path class="thin" d="M480,1180 C478,1160 490,1150 520,1145 C580,1137 645,1140 660,1116 C668,1135 690,1141 720,1141 L855,1141 C878,1143 888,1160 890,1180"/>
<path class="thin" stroke-width="1.3" marker-end="url(#ah)" d="M890,1176 C895,1150 930,1142 960,1133 C982,1126 988,1118 988,1108"/>
<line x1="1617" y1="721" x2="1617" y2="782" stroke="#6B6F6E" stroke-width="3"/>
<polygon class="gr" points="1617,798 1609,778 1625,778"/>
<polygon class="gr" points="1188,1035 1229,1033 1227,1029 1241,1036 1227,1043 1229,1039 1188,1037"/>
<polygon class="gr" points="1181,1175.9 1258.4,1097.7 1251.6,1090.4 1283,1083 1273.4,1113.8 1266.6,1106.5 1183,1178.1"/>
<path class="thin" stroke-width="1.3" marker-end="url(#ah)" d="M1322,1040 C1400,1040 1456,1085 1456,1150"/>
<line x1="1199" y1="1400" x2="1199" y2="1430" stroke="#6B6F6E" stroke-width="3"/>
<polygon class="gr" points="1199,1442 1192,1427 1206,1427"/>
<line x1="1329" y1="1502" x2="1874" y2="1062" stroke="#4D4D4D" stroke-width="5"/>
<polygon fill="#4D4D4D" points="1894,1046 1877.6,1073.4 1863.8,1056.2"/>
<polygon class="gr" points="2002,960 2004,960 2004.5,995 2009,994 2003,1008 1997,994 2001.5,995"/>
<polygon fill="#111" points="1991.5,1136 1994.5,1136 1996.5,1215 2005,1212 1993,1235 1981,1212 1989.5,1215"/>
<polygon class="gr" points="1991,1352 1993,1352 1994,1415 2001,1414 1992,1436 1983,1414 1990,1415"/>
</g>
</svg>
